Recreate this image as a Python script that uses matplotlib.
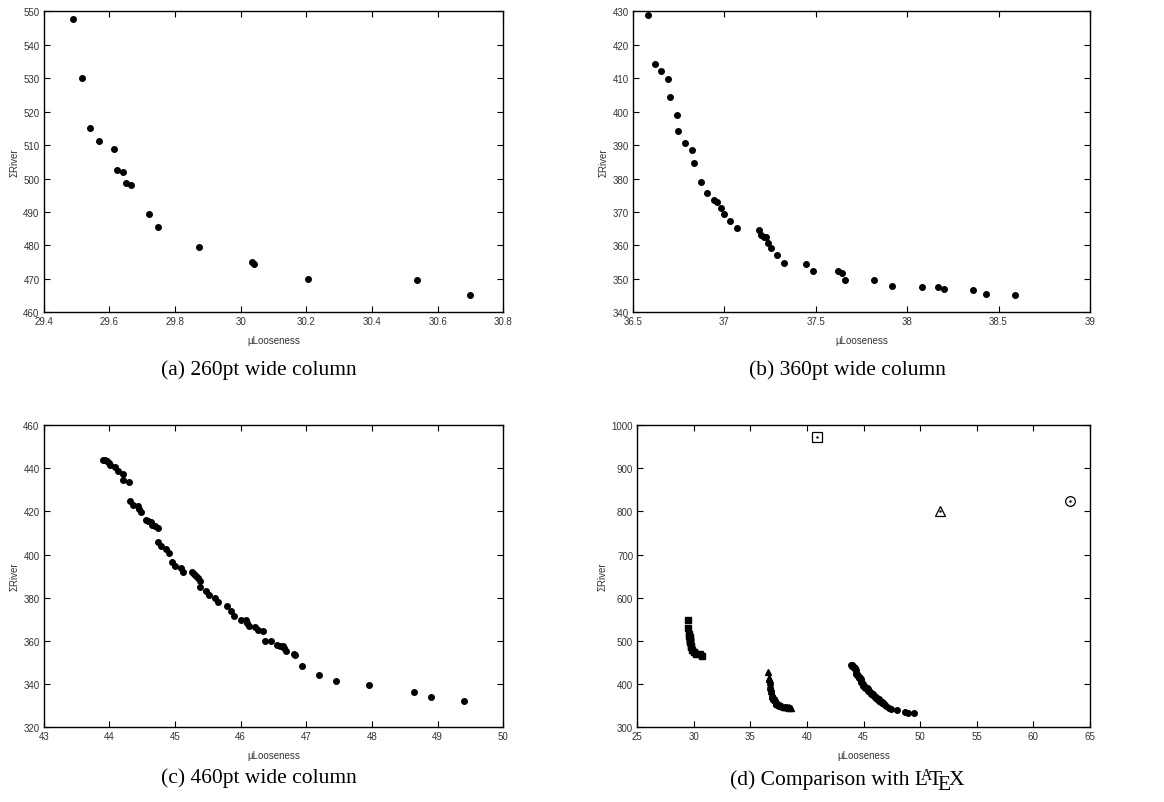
import numpy as np
import matplotlib
matplotlib.use("Agg")
import matplotlib.pyplot as plt
from matplotlib.ticker import FormatStrFormatter, MultipleLocator

plt.rcParams["font.family"] = ["Liberation Sans", "DejaVu Sans"]

# (a) 260pt column
a_x = [29.488, 29.516, 29.542, 29.569, 29.613, 29.622, 29.641, 29.650, 29.667,
       29.721, 29.748, 29.872, 30.034, 30.042, 30.204, 30.537, 30.700]
a_y = [547.7, 530.2, 515.1, 511.1, 508.7, 502.6, 502.0, 498.6, 498.0,
       489.4, 485.4, 479.6, 475.0, 474.5, 470.0, 469.7, 465.1]

# (b) 360pt column
b_x = [36.584, 36.620, 36.657, 36.695, 36.706, 36.744, 36.746, 36.784, 36.822,
       36.833, 36.872, 36.908, 36.945, 36.959, 36.981, 36.997, 37.034, 37.072,
       37.189, 37.201, 37.216, 37.227, 37.240, 37.254, 37.291, 37.327, 37.446,
       37.484, 37.624, 37.644, 37.662, 37.819, 37.919, 38.081, 38.171, 38.200,
       38.362, 38.429, 38.590]
b_y = [428.9, 414.2, 412.1, 409.8, 404.5, 399.1, 394.1, 390.6, 388.5,
       384.6, 379.0, 375.6, 373.5, 373.0, 371.3, 369.5, 367.4, 365.1,
       364.7, 363.0, 362.6, 362.4, 360.8, 359.1, 357.0, 354.8, 354.4,
       352.2, 352.2, 351.9, 349.8, 349.6, 348.0, 347.7, 347.5, 346.9,
       346.6, 345.6, 345.3]

# (c) 460pt column
c_x = [43.907, 43.938, 43.968, 43.994, 44.004, 44.080, 44.130, 44.206, 44.211,
       44.293, 44.313, 44.353, 44.429, 44.454, 44.485, 44.551, 44.591, 44.627,
       44.647, 44.698, 44.734, 44.744, 44.789, 44.870, 44.916, 44.952, 45.002,
       45.088, 45.129, 45.256, 45.296, 45.322, 45.357, 45.377, 45.382, 45.474,
       45.519, 45.606, 45.651, 45.798, 45.859, 45.899, 46.001, 46.082, 46.097,
       46.133, 46.219, 46.269, 46.345, 46.376, 46.462, 46.558, 46.604, 46.639,
       46.660, 46.695, 46.817, 46.832, 46.939, 47.197, 47.451, 47.948, 48.647,
       48.906, 49.407]
c_y = [444.0, 443.6, 443.2, 442.4, 441.6, 440.4, 438.5, 437.3, 434.7,
       433.4, 424.7, 423.0, 422.5, 421.1, 419.7, 416.2, 415.5, 414.9,
       413.7, 413.2, 412.3, 405.7, 404.0, 402.4, 400.7, 396.7, 394.9,
       393.6, 391.9, 391.8, 391.0, 390.1, 389.0, 387.8, 385.0, 383.0,
       381.1, 379.9, 378.0, 376.3, 373.7, 371.4, 369.9, 369.7, 368.5,
       366.9, 366.5, 365.1, 364.6, 360.1, 359.8, 358.1, 357.7, 357.5,
       356.7, 355.2, 354.1, 353.5, 348.4, 344.1, 341.6, 339.8, 336.5,
       333.9, 332.0]

# LaTeX reference points (260pt, 360pt, 460pt)
latex_x = [40.85, 51.74, 63.23]
latex_y = [971.4, 800.1, 824.0]
latex_markers = ["s", "^", "o"]

captions = ["(a) 260pt wide column", "(b) 360pt wide column",
            "(c) 460pt wide column"]

W, H = 1164, 803
CAP_FS = 15.5
fig = plt.figure(figsize=(W / 100, H / 100), dpi=100)

def box(l, t, r, b):
    return [l / W, 1 - b / H, (r - l) / W, (b - t) / H]

ax_a = fig.add_axes(box(43.7, 12.3, 503.3, 313.3))
ax_b = fig.add_axes(box(632.7, 12.3, 1090, 313.3))
ax_c = fig.add_axes(box(43.7, 426, 503.3, 728.3))
ax_d = fig.add_axes(box(637.3, 426, 1090, 728.3))

def style(ax, xlim, xstep, ylim, ystep):
    ax.set_xlim(*xlim)
    ax.set_ylim(*ylim)
    ax.xaxis.set_major_locator(MultipleLocator(xstep))
    ax.yaxis.set_major_locator(MultipleLocator(ystep))
    ax.xaxis.set_major_formatter(FormatStrFormatter("%g"))
    ax.yaxis.set_major_formatter(FormatStrFormatter("%g"))
    ax.tick_params(direction="in", length=4, width=0.8, top=True, right=True,
                   labelsize=7, labelcolor="#333333", pad=3)
    for s in ax.spines.values():
        s.set_linewidth(1.0)
    ax.set_xlabel("µLooseness", fontsize=7, color="#333333", labelpad=6)
    ax.set_ylabel("ΣRiver", fontsize=7, color="#333333", labelpad=3)

ax_a.plot(a_x, a_y, "o", color="black", ms=4)
style(ax_a, (29.4, 30.8), 0.2, (460, 550), 10)

ax_b.plot(b_x, b_y, "o", color="black", ms=4)
style(ax_b, (36.5, 39), 0.5, (340, 430), 10)

ax_c.plot(c_x, c_y, "o", color="black", ms=4)
style(ax_c, (43, 50), 1, (320, 460), 20)

ax_d.plot(a_x, a_y, "s", color="black", ms=3.8)
ax_d.plot(b_x, b_y, "^", color="black", ms=3.8)
ax_d.plot(c_x, c_y, "o", color="black", ms=4)
for x, y, m in zip(latex_x, latex_y, latex_markers):
    ax_d.plot(x, y, m, mfc="none", mec="black", mew=0.9, ms=7)
    ax_d.plot(x, y, ".", color="black", ms=1.5)
style(ax_d, (25, 65), 5, (300, 1000), 100)

cap_pos = [(259, 370), (847, 370), (259, 778)]
for (cx, cy), txt in zip(cap_pos, captions):
    fig.text(cx / W, 1 - cy / H, txt, ha="center", va="center", fontsize=CAP_FS,
             family=["Liberation Serif"])

# caption (d) with a hand-kerned LaTeX logo
em = CAP_FS * 100 / 72.0
pieces = [("(d) Comparison with L", 1.0, 0.0, 0.0),
          ("A", 0.72, 0.22, -0.36),
          ("T", 1.0, 0.0, -0.15),
          ("E", 1.0, -0.22, -0.1667),
          ("X", 1.0, 0.0, -0.125)]
renderer = fig.canvas.get_renderer()
texts = []
for s, scale, dy, kern in pieces:
    t = fig.text(0, 0, s, fontsize=CAP_FS * scale, family=["Liberation Serif"],
                 ha="left", va="baseline")
    w = t.get_window_extent(renderer).width
    texts.append((t, w, dy, kern))
total = sum(w + k * em for _, w, _, k in texts)
x0 = 847 - total / 2
base = H - 778 - 0.33 * em
for t, w, dy, kern in texts:
    x0 += kern * em
    t.set_position((x0 / W, (base + dy * em) / H))
    x0 += w

fig.savefig("out.png", dpi=100)
